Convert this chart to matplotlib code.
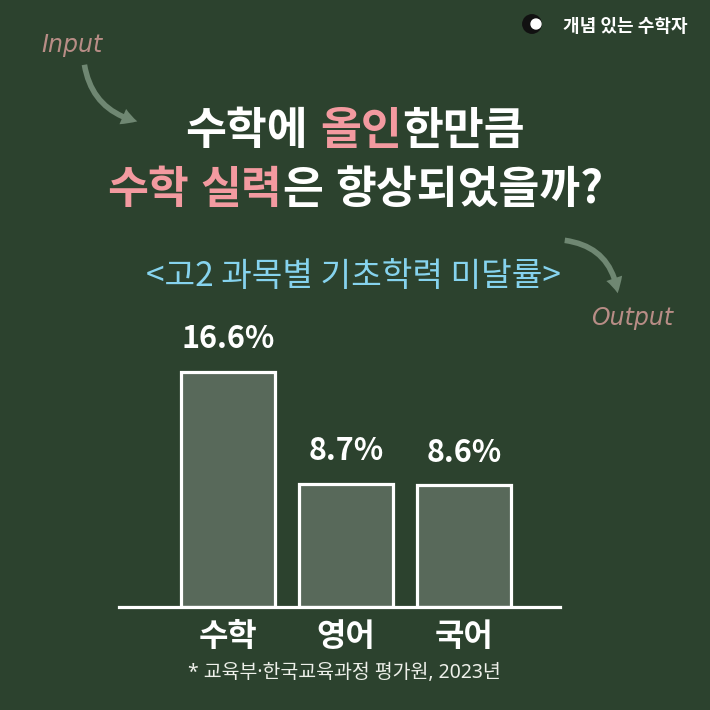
import numpy as np
import matplotlib
matplotlib.use("Agg")
import matplotlib.pyplot as plt
from matplotlib.patches import FancyArrowPatch

# data
subjects = ['수학', '영어', '국어']
rates = [16.6, 8.7, 8.6]
rate_labels = ['16.6%', '8.7%', '8.6%']

BG = '#2c422e'
BAR = '#58695a'
PINK = '#f39aa0'
BLUE = '#86d3ee'
HAND = '#b88d86'
ARROW = '#6f8772'
KR = ['Noto Sans CJK KR', 'DejaVu Sans']

plt.rcParams['font.family'] = KR

fig = plt.figure(figsize=(7.1, 7.1), dpi=100, facecolor=BG)
W = H = 710.0


def fx(x):
    return x / W


def fy(y):
    return 1 - y / H


# chart area
ax = fig.add_axes([fx(119), fy(607), (560 - 119) / W, (607 - 330) / H])
ax.set_facecolor('none')
x = np.arange(len(subjects))
bars = ax.bar(x, rates, width=0.8, color=BAR, edgecolor='white', linewidth=2.3)
ax.set_xlim(-0.924, 2.814)
ax.set_ylim(0, 19.56)
for s in ['top', 'right', 'left']:
    ax.spines[s].set_visible(False)
ax.spines['bottom'].set_color('white')
ax.spines['bottom'].set_linewidth(2.3)
ax.set_yticks([])
ax.set_xticks(x)
ax.set_xticklabels(subjects, fontsize=23, fontweight='bold', color='white')
ax.tick_params(axis='x', length=0, pad=10)
for xi, v, lab in zip(x, rates, rate_labels):
    ax.annotate(lab, (xi, v), xytext=(0, 12), textcoords='offset points',
                ha='center', va='bottom', fontsize=22, fontweight='bold',
                color='white')

# footnote
fig.text(fx(344), fy(673), '* 교육부·한국교육과정 평가원, 2023년', ha='center',
         va='center', fontsize=14, color='#eef0ea',
         family=['Noto Sans', 'Noto Sans CJK KR'])

# subtitle
fig.text(fx(353), fy(277), '<고2 과목별 기초학력 미달률>', ha='center',
         va='center', fontsize=24, color=BLUE)

# title with coloured segments
renderer = fig.canvas.get_renderer()


def rich_line(parts, yc, size, gap):
    items = []
    for p in parts:
        if p is None:
            items.append(None)
            continue
        t = fig.text(0, fy(yc), p[0], color=p[1], fontsize=size,
                     fontweight='heavy', ha='left', va='center')
        items.append(t)
    widths = [gap if t is None else t.get_window_extent(renderer).width
              for t in items]
    pos = W / 2 - sum(widths) / 2
    for t, w in zip(items, widths):
        if t is not None:
            t.set_x(fx(pos))
        pos += w


rich_line([('수학에', 'white'), None, ('올인', PINK), ('한만큼', 'white')],
          131, 32, 12)
rich_line([('수학', PINK), None, ('실력', PINK), ('은', 'white'), None,
           ('향상되었을까?', 'white')], 190, 32, 12)

# handwritten notes and arrows
fig.text(fx(72), fy(45), 'Input', ha='center', va='center', fontsize=17,
         color=HAND, family='DejaVu Sans', style='italic')
fig.text(fx(632), fy(318), 'Output', ha='center', va='center', fontsize=17,
         color=HAND, family='DejaVu Sans', style='italic')
fig.patches.append(FancyArrowPatch((fx(84), fy(62)), (fx(140), fy(122)),
                                   transform=fig.transFigure,
                                   connectionstyle='arc3,rad=0.35',
                                   arrowstyle='simple,head_width=12,head_length=11,tail_width=4',
                                   color=ARROW, lw=0))
fig.patches.append(FancyArrowPatch((fx(562), fy(240)), (fx(618), fy(296)),
                                   transform=fig.transFigure,
                                   connectionstyle='arc3,rad=-0.4',
                                   arrowstyle='simple,head_width=12,head_length=11,tail_width=4',
                                   color=ARROW, lw=0))

# logo
fig.text(fx(625), fy(27), '개념 있는 수학자', ha='center', va='center',
         fontsize=13, fontweight='heavy', color='white')
fig.patches.append(plt.Circle((fx(532), fy(24)), 0.013, transform=fig.transFigure,
                              color='#111111'))
fig.patches.append(plt.Circle((fx(536), fy(24)), 0.007, transform=fig.transFigure,
                              color='white'))

fig.savefig('out.png', dpi=100, facecolor=BG)
